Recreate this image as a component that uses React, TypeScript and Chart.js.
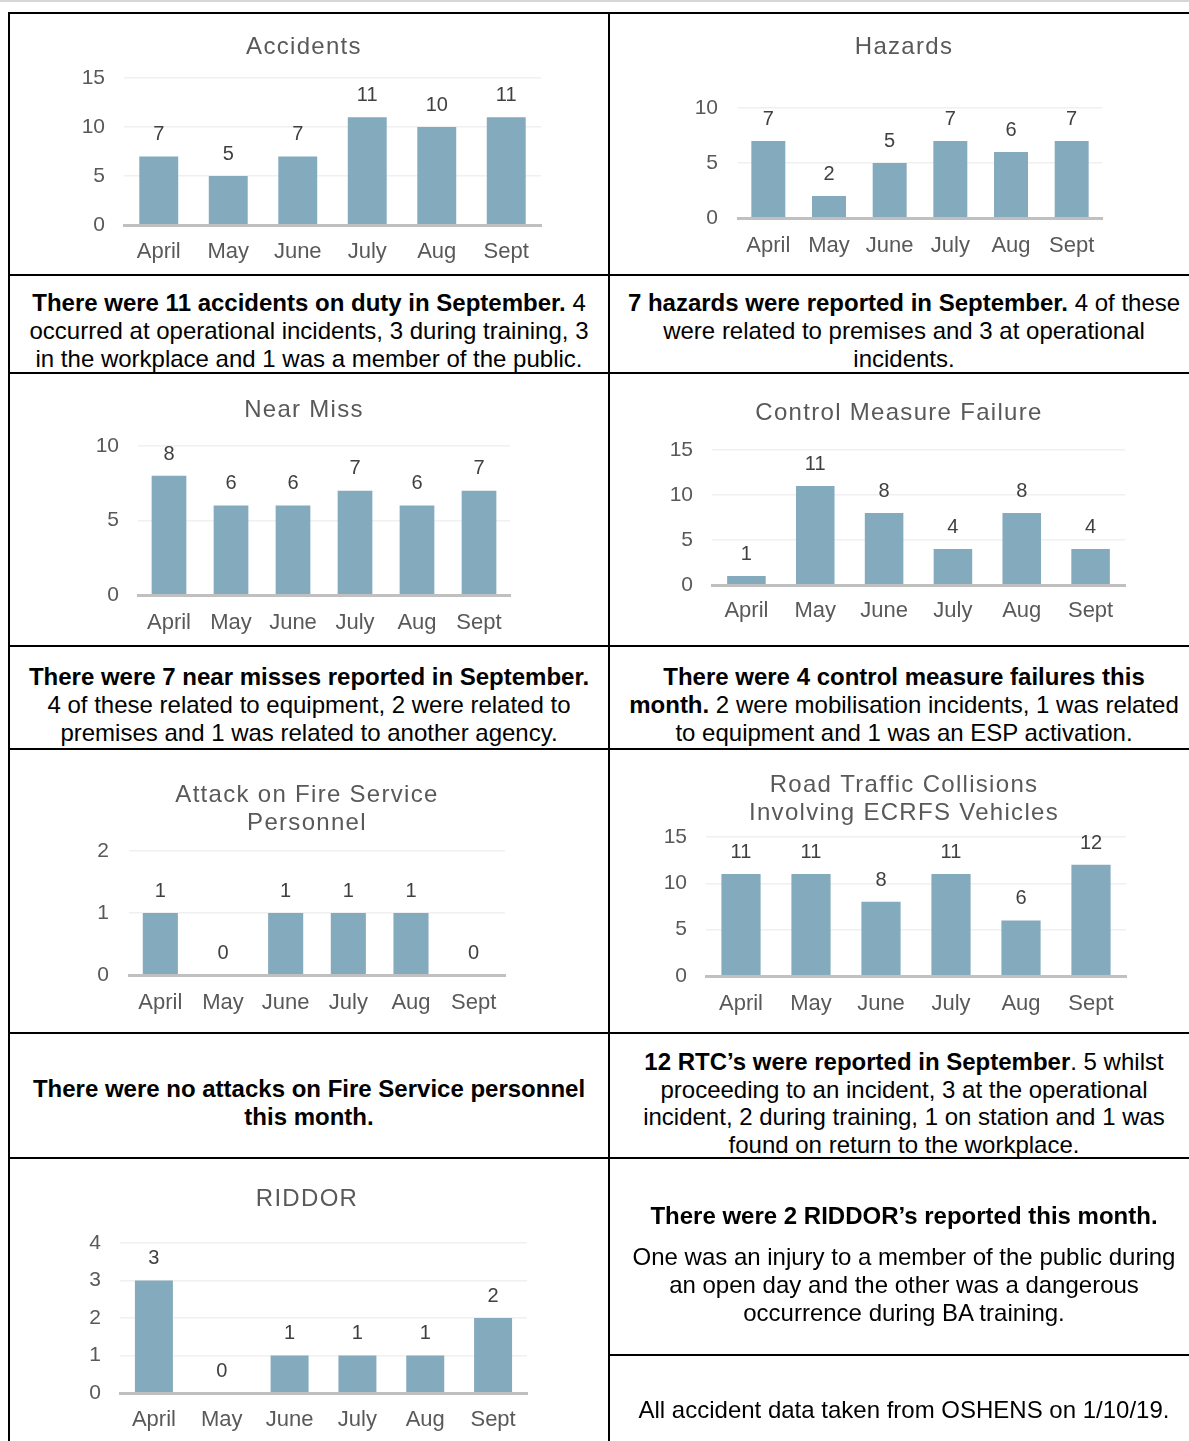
import React, { useEffect, useRef } from "react";
import { Chart, registerables } from "chart.js";

Chart.register(...registerables);

// ---- data ----
const months = ["April", "May", "June", "July", "Aug", "Sept"];
const accidents = [7, 5, 7, 11, 10, 11];
const hazards = [7, 2, 5, 7, 6, 7];
const nearMisses = [8, 6, 6, 7, 6, 7];
const controlMeasureFailures = [1, 11, 8, 4, 8, 4];
const attacksOnPersonnel = [1, 0, 1, 1, 1, 0];
const roadTrafficCollisions = [11, 11, 8, 11, 6, 12];
const riddorReports = [3, 0, 1, 1, 1, 2];

// y-axis ranges: [max, step]
const accidentsAxis = [15, 5];
const hazardsAxis = [10, 5];
const nearMissAxis = [10, 5];
const controlAxis = [15, 5];
const attackAxis = [2, 1];
const rtcAxis = [15, 5];
const riddorAxis = [4, 1];

const FONT = "'Liberation Sans', Arial, Helvetica, sans-serif";
const BAR_COLOR = "#84aabd";
const AXIS_TEXT = "#595959";
const VALUE_TEXT = "#404040";

type Rect = { x: number; y: number; w: number; h: number };
type Plot = { left: number; right: number; top: number; bottom: number };

type PanelProps = {
  title: string[];
  values: number[];
  axis: number[];
  cell: Rect;
  plot: Plot;
  tickRight: number;
  labelY: number;
  titleX: number;
  titleY: number[];
};

function BarPanel(p: PanelProps) {
  const ref = useRef<HTMLCanvasElement | null>(null);

  useEffect(() => {
    const { cell, plot } = p;
    const yAxisW = 60;
    const xAxisH = 40;
    const catSize = 22;

    // chart heading, drawn with a little letter spacing
    const titlePlugin = {
      id: "panelTitle",
      afterDraw(chart: any) {
        const ctx = chart.ctx as CanvasRenderingContext2D;
        ctx.save();
        ctx.font = `24px ${FONT}`;
        ctx.fillStyle = AXIS_TEXT;
        ctx.textAlign = "center";
        ctx.textBaseline = "alphabetic";
        (ctx as any).letterSpacing = "1.3px";
        p.title.forEach((line, i) => {
          ctx.fillText(line, p.titleX - cell.x, p.titleY[i] - cell.y + 8.6);
        });
        ctx.restore();
      },
    };

    // value printed above each bar
    const valuePlugin = {
      id: "valueLabels",
      afterDatasetsDraw(chart: any) {
        const ctx = chart.ctx as CanvasRenderingContext2D;
        const meta = chart.getDatasetMeta(0);
        const data = chart.data.datasets[0].data as number[];
        ctx.save();
        ctx.font = `20px ${FONT}`;
        ctx.fillStyle = VALUE_TEXT;
        ctx.textAlign = "center";
        ctx.textBaseline = "alphabetic";
        meta.data.forEach((bar: any, i: number) => {
          ctx.fillText(String(data[i]), bar.x, bar.y - 23.5 + 7.2);
        });
        ctx.restore();
      },
    };

    const chart = new Chart(ref.current as HTMLCanvasElement, {
      type: "bar",
      data: {
        labels: months,
        datasets: [
          {
            data: p.values,
            backgroundColor: BAR_COLOR,
            borderWidth: 0,
            barPercentage: 0.56,
            categoryPercentage: 1,
          },
        ],
      },
      options: {
        animation: false,
        responsive: false,
        maintainAspectRatio: false,
        layout: {
          padding: {
            left: plot.left - cell.x - yAxisW,
            top: plot.top - cell.y,
            right: cell.x + cell.w - plot.right,
            bottom: cell.y + cell.h - plot.bottom - xAxisH,
          },
        },
        plugins: {
          legend: { display: false },
          tooltip: { enabled: false },
          title: { display: false },
        },
        scales: {
          x: {
            grid: { display: false, drawTicks: false },
            border: { display: true, color: "#c0c0c0", width: 3, z: 1 },
            ticks: {
              color: AXIS_TEXT,
              font: { family: FONT, size: catSize },
              padding: p.labelY - plot.bottom - 0.6 * catSize + 1,
              maxRotation: 0,
              autoSkip: false,
            },
            afterFit: (s: any) => {
              s.height = xAxisH;
            },
          },
          y: {
            min: 0,
            max: p.axis[0],
            ticks: {
              stepSize: p.axis[1],
              color: AXIS_TEXT,
              font: { family: FONT, size: 21 },
              padding: plot.left - p.tickRight,
            },
            grid: {
              drawTicks: false,
              lineWidth: 1.5,
              color: (c: any) => (c.tick && c.tick.value === 0 ? "rgba(0,0,0,0)" : "#f0f0f0"),
            },
            border: { display: false },
            afterFit: (s: any) => {
              s.width = yAxisW;
            },
          },
        },
      } as any,
      plugins: [titlePlugin, valuePlugin],
    });
    return () => chart.destroy();
  }, []);

  return (
    <canvas
      ref={ref}
      width={p.cell.w}
      height={p.cell.h}
      style={{
        position: "absolute",
        left: p.cell.x,
        top: p.cell.y,
        width: p.cell.w,
        height: p.cell.h,
      }}
    />
  );
}

function Note({ center, top, lineHeight = 28, children }: { center: number; top: number; lineHeight?: number; children: React.ReactNode }) {
  return (
    <div
      style={{
        position: "absolute",
        left: center - 320,
        width: 640,
        top,
        textAlign: "center",
        whiteSpace: "nowrap",
        fontFamily: FONT,
        fontSize: 24,
        lineHeight: `${lineHeight}px`,
        color: "#000",
      }}
    >
      {children}
    </div>
  );
}

function HLine({ x1, x2, y }: { x1: number; x2: number; y: number }) {
  return <div style={{ position: "absolute", left: x1, top: y, width: x2 - x1, height: 2, background: "#000" }} />;
}

function VLine({ x, y1, y2 }: { x: number; y1: number; y2: number }) {
  return <div style={{ position: "absolute", left: x, top: y1, width: 2, height: y2 - y1, background: "#000" }} />;
}

export default function App() {
  const L = 309;
  const R = 904;
  return (
    <div
      style={{
        position: "absolute",
        left: 0,
        top: 0,
        width: 1189,
        height: 1441,
        overflow: "hidden",
        background: "#fff",
      }}
    >
      <div style={{ position: "absolute", left: 0, top: 0, width: 1189, height: 2, background: "#d6d6d6" }} />

      {/* table rules */}
      <HLine x1={8} x2={1189} y={12} />
      <HLine x1={8} x2={1189} y={274} />
      <HLine x1={8} x2={1189} y={372} />
      <HLine x1={8} x2={1189} y={645} />
      <HLine x1={8} x2={1189} y={748} />
      <HLine x1={8} x2={1189} y={1032} />
      <HLine x1={8} x2={1189} y={1157} />
      <HLine x1={608} x2={1189} y={1354} />
      <VLine x={8} y1={12} y2={1441} />
      <VLine x={608} y1={12} y2={1441} />

      <BarPanel
        title={["Accidents"]}
        values={accidents}
        axis={accidentsAxis}
        cell={{ x: 10, y: 14, w: 598, h: 260 }}
        plot={{ left: 124, right: 541, top: 78, bottom: 225 }}
        tickRight={105}
        labelY={251}
        titleX={304}
        titleY={[45]}
      />
      <BarPanel
        title={["Hazards"]}
        values={hazards}
        axis={hazardsAxis}
        cell={{ x: 610, y: 14, w: 579, h: 260 }}
        plot={{ left: 738, right: 1102, top: 108, bottom: 218 }}
        tickRight={718}
        labelY={245}
        titleX={904}
        titleY={[45]}
      />
      <BarPanel
        title={["Near Miss"]}
        values={nearMisses}
        axis={nearMissAxis}
        cell={{ x: 10, y: 374, w: 598, h: 271 }}
        plot={{ left: 138, right: 510, top: 446, bottom: 595 }}
        tickRight={119}
        labelY={622}
        titleX={304}
        titleY={[408]}
      />
      <BarPanel
        title={["Control Measure Failure"]}
        values={controlMeasureFailures}
        axis={controlAxis}
        cell={{ x: 610, y: 374, w: 579, h: 271 }}
        plot={{ left: 712, right: 1125, top: 450, bottom: 585 }}
        tickRight={693}
        labelY={610}
        titleX={899}
        titleY={[411]}
      />
      <BarPanel
        title={["Attack on Fire Service", "Personnel"]}
        values={attacksOnPersonnel}
        axis={attackAxis}
        cell={{ x: 10, y: 750, w: 598, h: 282 }}
        plot={{ left: 129, right: 505, top: 851, bottom: 975 }}
        tickRight={109}
        labelY={1002}
        titleX={307}
        titleY={[793, 821]}
      />
      <BarPanel
        title={["Road Traffic Collisions", "Involving ECRFS Vehicles"]}
        values={roadTrafficCollisions}
        axis={rtcAxis}
        cell={{ x: 610, y: 750, w: 579, h: 282 }}
        plot={{ left: 706, right: 1126, top: 837, bottom: 976 }}
        tickRight={687}
        labelY={1003}
        titleX={904}
        titleY={[783, 811]}
      />
      <BarPanel
        title={["RIDDOR"]}
        values={riddorReports}
        axis={riddorAxis}
        cell={{ x: 10, y: 1159, w: 598, h: 282 }}
        plot={{ left: 120, right: 527, top: 1243, bottom: 1393 }}
        tickRight={101}
        labelY={1419}
        titleX={307}
        titleY={[1197]}
      />

      <Note center={L} top={289}>
        <div>
          <b>There were 11 accidents on duty in September.</b> 4
        </div>
        <div>occurred at operational incidents, 3 during training, 3</div>
        <div>in the workplace and 1 was a member of the public.</div>
      </Note>
      <Note center={R} top={289}>
        <div>
          <b>7 hazards were reported in September.</b> 4 of these
        </div>
        <div>were related to premises and 3 at operational</div>
        <div>incidents.</div>
      </Note>

      <Note center={L} top={663}>
        <div>
          <b>There were 7 near misses reported in September.</b>
        </div>
        <div>4 of these related to equipment, 2 were related to</div>
        <div>premises and 1 was related to another agency.</div>
      </Note>
      <Note center={R} top={663}>
        <div>
          <b>There were 4 control measure failures this</b>
        </div>
        <div>
          <b>month.</b> 2 were mobilisation incidents, 1 was related
        </div>
        <div>to equipment and 1 was an ESP activation.</div>
      </Note>

      <Note center={L} top={1075}>
        <div>
          <b>There were no attacks on Fire Service personnel</b>
        </div>
        <div>
          <b>this month.</b>
        </div>
      </Note>
      <Note center={R} top={1048} lineHeight={27.7}>
        <div>
          <b>12 RTC’s were reported in September</b>. 5 whilst
        </div>
        <div>proceeding to an incident, 3 at the operational</div>
        <div>incident, 2 during training, 1 on station and 1 was</div>
        <div>found on return to the workplace.</div>
      </Note>

      <Note center={R} top={1202}>
        <div>
          <b>There were 2 RIDDOR’s reported this month.</b>
        </div>
      </Note>
      <Note center={R} top={1243}>
        <div>One was an injury to a member of the public during</div>
        <div>an open day and the other was a dangerous</div>
        <div>occurrence during BA training.</div>
      </Note>
      <Note center={R} top={1396}>
        <div>All accident data taken from OSHENS on 1/10/19.</div>
      </Note>
    </div>
  );
}
